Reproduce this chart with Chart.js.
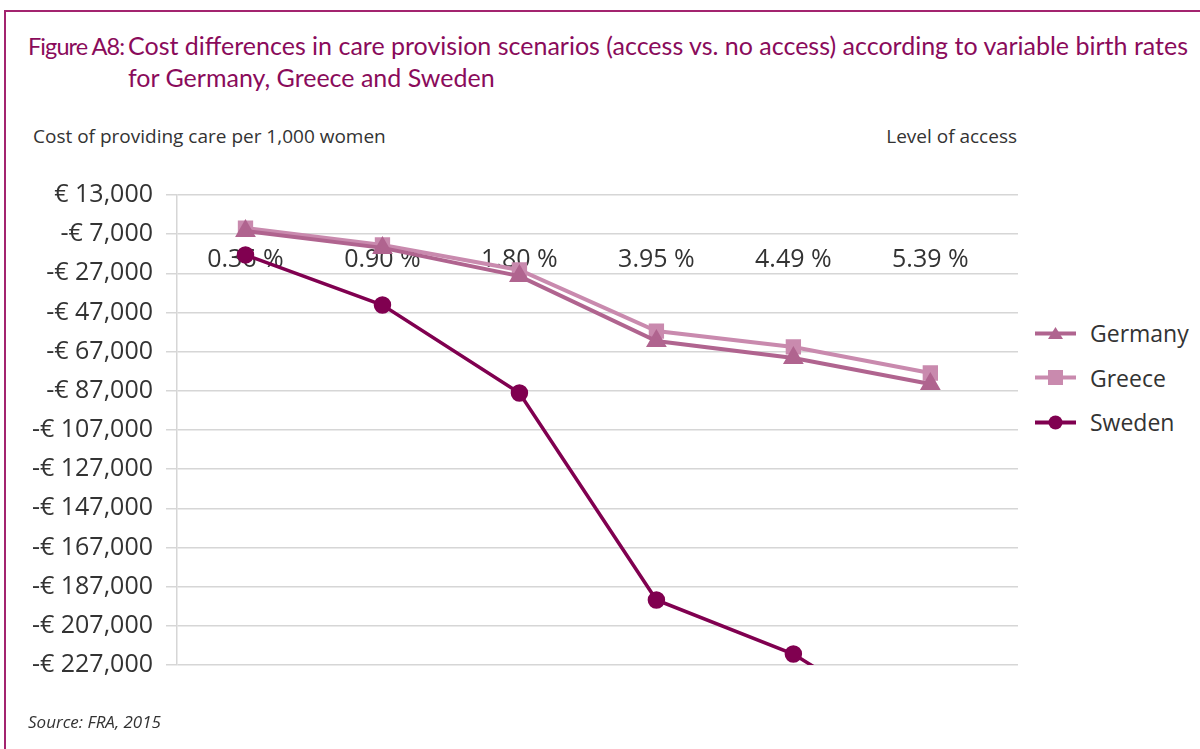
<!DOCTYPE html>
<html lang="en">
<head>
	<meta charset="UTF-8">
	<title>Figure A8</title>
	<script src="https://cdn.jsdelivr.net/npm/chart.js"></script>
	<style>
		body { margin: 0; width: 1200px; height: 749px; background: #fff; position: relative; overflow: hidden; font-family: "Open Sans", sans-serif; color: #333; }
		.frame { position: absolute; left: 4px; top: 10px; right: -10px; bottom: -10px; border-top: 2px solid #a3246f; border-left: 2px solid #a3246f; }
		.title { position: absolute; left: 28px; top: 30px; font-family: Lato, sans-serif; font-size: 25px; color: #8a0b5b; line-height: 31px; white-space: nowrap; }
		.title .num { display: inline-block; width: 100px; font-size: 23.5px; letter-spacing: -0.9px; }
		.title .l2 { padding-left: 100px; }
		.sub { position: absolute; top: 123px; font-size: 19px; color: #333; }
		.source { position: absolute; left: 28px; top: 710px; font-size: 17px; font-style: italic; color: #333; }
		.chart-box { position: absolute; left: 0; top: 0; width: 1030px; height: 749px; }
		.legend { position: absolute; left: 1035px; top: 311px; font-size: 23px; color: #333; }
		.legend div { height: 44.5px; display: flex; align-items: center; }
		.legend svg { margin-right: 14px; }
	</style>
</head>
<body>
	<div class="frame"></div>
	<div class="title">
		<span class="num">Figure A8:</span>Cost differences in care provision scenarios (access vs. no access) according to variable birth rates<br>
		<span class="l2">for Germany, Greece and Sweden</span>
	</div>
	<div class="sub" style="left:33px">Cost of providing care per 1,000 women</div>
	<div class="sub" style="right:183px">Level of access</div>

	<div class="chart-box">
		<canvas id="lineChart" width="1030" height="749"></canvas>
	</div>

	<div class="legend" id="legend"></div>

	<div class="source">Source: FRA, 2015</div>

	<script type="text/javascript">

		// data
		var access = ['0.36 %', '0.90 %', '1.80 %', '3.95 %', '4.49 %', '5.39 %'];
		var germany = [-5400, -14000, -28400, -61600, -70200, -83500];
		var greece = [-3900, -12500, -25300, -56500, -64600, -77900];
		var sweden = [-17600, -43200, -88100, -193800, -221400, -265000];
		var yTicks = [13000, -7000, -27000, -47000, -67000, -87000, -107000, -127000, -147000, -167000, -187000, -207000, -227000];

		var colGermany = '#b0648f';
		var colGreece = '#c98aae';
		var colSweden = '#800050';

		function pts(arr) {
			return arr.map(function (v, i) { return { x: i, y: v }; });
		}

		function euro(v) {
			var s = Math.abs(v).toLocaleString('en-US');
			return v < 0 ? '-€ ' + s : '€ ' + s;
		}

		var ctx = document.getElementById('lineChart').getContext('2d');

		var myChart = new Chart(ctx, {
			type: 'line',
			data: {
				datasets: [{
					label: 'Germany',
					data: pts(germany),
					borderColor: colGermany,
					backgroundColor: colGermany,
					borderWidth: 4,
					pointStyle: 'triangle',
					pointRadius: 8,
					order: 1
				}, {
					label: 'Greece',
					data: pts(greece),
					borderColor: colGreece,
					backgroundColor: colGreece,
					borderWidth: 4,
					pointStyle: 'rect',
					pointRadius: 8,
					order: 2
				}, {
					label: 'Sweden',
					data: pts(sweden),
					borderColor: colSweden,
					backgroundColor: colSweden,
					borderWidth: 3.5,
					pointStyle: 'circle',
					pointRadius: 7,
					order: 0
				}]
			},
			options: {
				responsive: false,
				animation: false,
				layout: { padding: { top: 195, bottom: 84, right: 2, left: 0 } },
				plugins: {
					legend: { display: false },
					tooltip: { enabled: false }
				},
				scales: {
					x: {
						type: 'linear',
						position: { y: 0 },
						min: -0.5,
						max: 5.64,
						z: 1,
						grid: { display: false },
						border: { display: false },
						afterBuildTicks: function (scale) {
							scale.ticks = access.map(function (_, i) { return { value: i }; });
						},
						ticks: {
							padding: 16,
							color: '#333',
							font: { family: 'Open Sans', size: 25 },
							maxRotation: 0,
							callback: function (v) { return access[v]; }
						}
					},
					y: {
						min: -227000,
						max: 13000,
						afterFit: function (scale) { scale.width = 177; },
						afterBuildTicks: function (scale) {
							scale.ticks = yTicks.map(function (v) { return { value: v }; });
						},
						grid: { color: '#d6d6d6', lineWidth: 1.5, tickLength: 11 },
						border: { color: '#d6d6d6', width: 1.5 },
						ticks: {
							padding: 13,
							color: '#333',
							font: { family: 'Open Sans', size: 25 },
							callback: function (v) { return euro(v); }
						}
					}
				}
			}
		});

		// legend: line sample with marker, as in the original
		var legendItems = [
			{ name: 'Germany', color: colGermany, mark: '<polygon points="20.5,2 28,14 13,14" />' },
			{ name: 'Greece', color: colGreece, mark: '<rect x="13" y="1" width="15" height="15" />' },
			{ name: 'Sweden', color: colSweden, mark: '<circle cx="20.5" cy="8.5" r="7" />' }
		];
		var html = '';
		legendItems.forEach(function (it) {
			html += '<div><svg width="41" height="17"><line x1="0" y1="8.5" x2="41" y2="8.5" stroke="' + it.color +
				'" stroke-width="4"/><g fill="' + it.color + '">' + it.mark + '</g></svg>' + it.name + '</div>';
		});
		document.getElementById('legend').innerHTML = html;
	</script>
</body>
</html>
